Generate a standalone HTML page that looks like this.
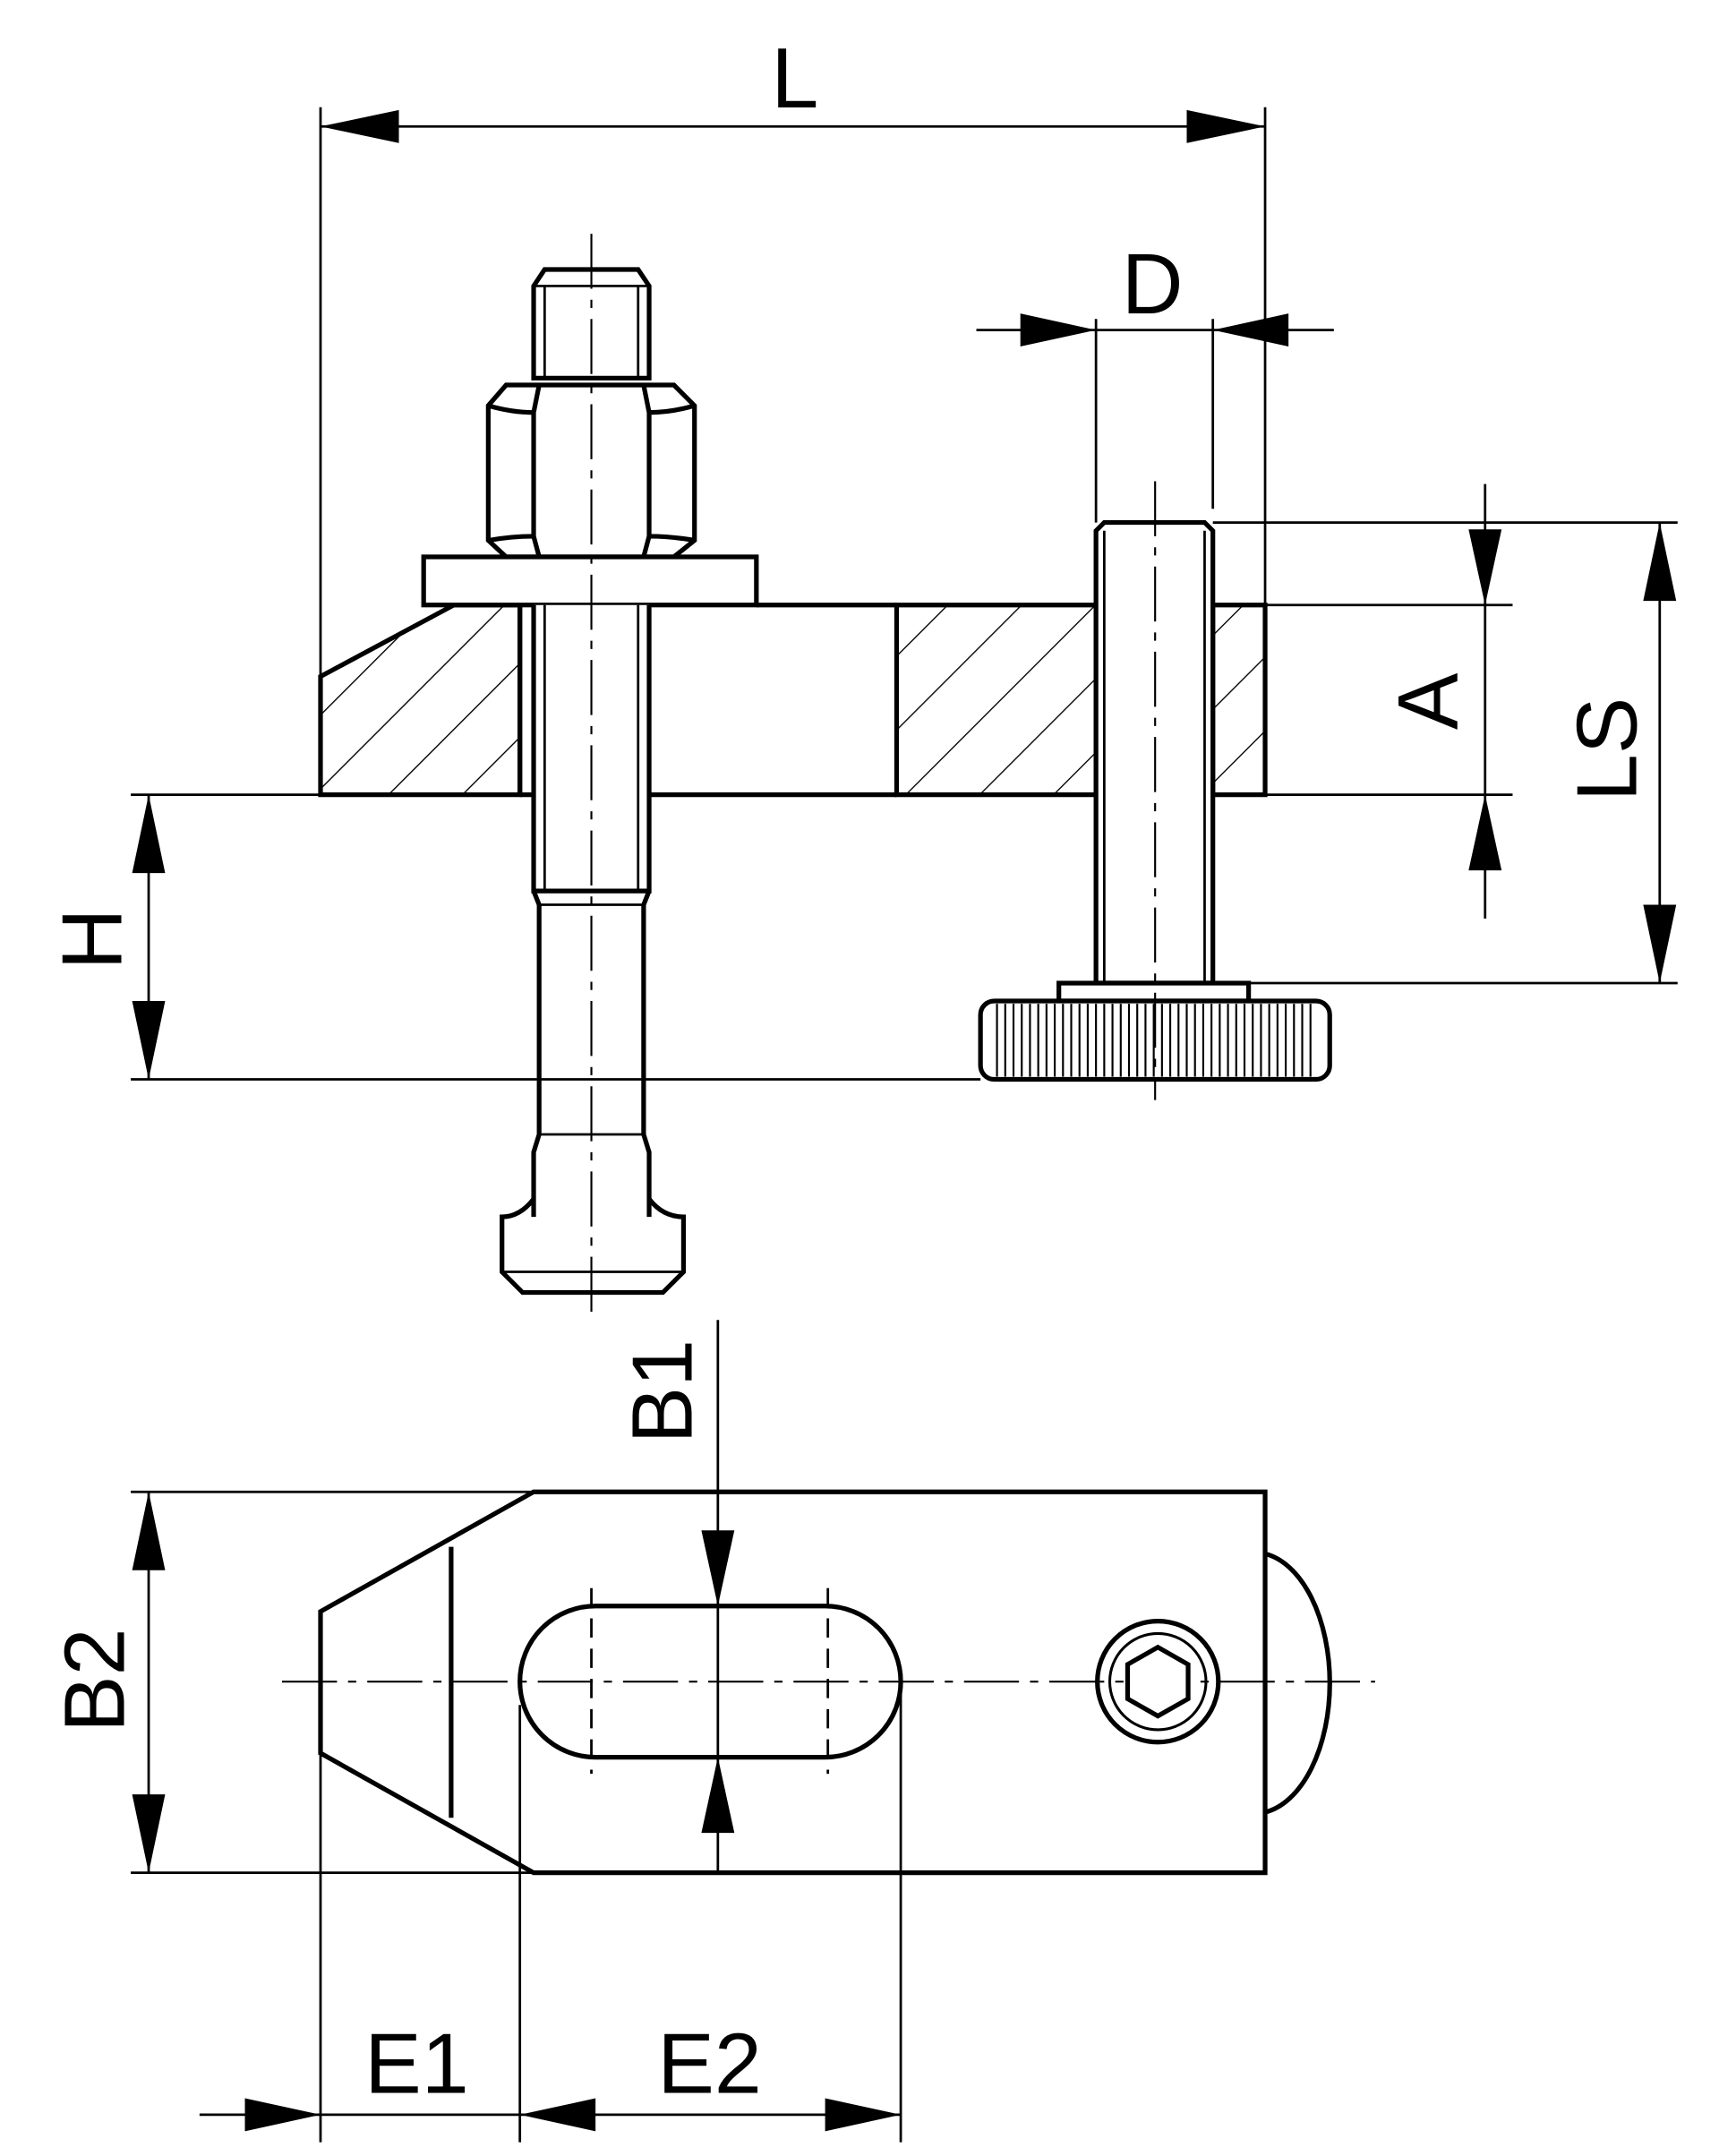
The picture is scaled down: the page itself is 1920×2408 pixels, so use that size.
<!DOCTYPE html>
<html><head><meta charset="utf-8"><style>
html,body{margin:0;padding:0;background:#fff}
svg{display:block}
text{font-family:"Liberation Sans",sans-serif;font-size:62px;fill:#000}
</style></head><body>
<svg width="1920" height="2408" viewBox="0 0 1250 1568" xmlns="http://www.w3.org/2000/svg">
<defs>
<pattern id="h" patternUnits="userSpaceOnUse" width="38" height="38" patternTransform="rotate(45)">
<line x1="0" y1="0" x2="0" y2="38" stroke="#000" stroke-width="1.8"/>
</pattern>
</defs>
<g fill="none" stroke="#000" stroke-width="3.4">
<!-- extension lines -->
<g stroke-width="1.8">
<line x1="233" y1="78" x2="233" y2="578"/>
<line x1="920" y1="78" x2="920" y2="440"/>
<line x1="797" y1="232" x2="797" y2="380"/>
<line x1="882" y1="232" x2="882" y2="370"/>
<line x1="233" y1="92" x2="920" y2="92"/>
<line x1="710" y1="240" x2="970" y2="240"/>
<line x1="95" y1="578" x2="233" y2="578"/>
<line x1="95" y1="785" x2="713" y2="785"/>
<line x1="108" y1="578" x2="108" y2="785"/>
<line x1="882" y1="380" x2="1220" y2="380"/>
<line x1="920" y1="440" x2="1100" y2="440"/>
<line x1="920" y1="578" x2="1100" y2="578"/>
<line x1="908" y1="715" x2="1220" y2="715"/>
<line x1="1080" y1="352" x2="1080" y2="668"/>
<line x1="1207" y1="380" x2="1207" y2="715"/>
</g>

<!-- body hatched -->
<path d="M233 492 L330 440 L378 440 L378 578 L233 578 Z" fill="url(#h)"/>
<path d="M652 440 L797 440 L797 578 L652 578 Z" fill="url(#h)"/>
<path d="M882 440 L920 440 L920 578 L882 578 Z" fill="url(#h)"/>
<line x1="550" y1="440" x2="652" y2="440"/>
<line x1="378" y1="578" x2="652" y2="578"/>
<line x1="470" y1="440" x2="470" y2="578" stroke-width="1.8"/>
<line x1="378" y1="440" x2="378" y2="578"/>

<!-- T-bolt -->
<path d="M388 208 L396 196 L464 196 L472 208 L472 275 L388 275 Z" fill="#fff"/>
<line x1="396" y1="208" x2="396" y2="275" stroke-width="1.8"/>
<line x1="464" y1="208" x2="464" y2="275" stroke-width="1.8"/>
<line x1="388" y1="208" x2="472" y2="208" stroke-width="1.8"/>
<path d="M368 280 L490 280 L505 295 L505 393 L490 405 L368 405 L355 393 L355 295 Z" fill="#fff"/>
<path d="M392 280 L388 300 L388 390 L392 405 M468 280 L472 300 L472 390 L468 405"/>
<path d="M355 295 Q372 300 388 300 M505 295 Q488 300 472 300 M355 393 Q372 390 388 390 M505 393 Q488 390 472 390"/>
<rect x="308" y="405" width="242" height="35" fill="#fff"/>
<path d="M388 440 L388 648 L472 648 L472 440" fill="#fff"/>
<line x1="396" y1="440" x2="396" y2="648" stroke-width="1.8"/>
<line x1="464" y1="440" x2="464" y2="648" stroke-width="1.8"/>
<path d="M388 648 L392 658 L392 825 L388 838 L388 885 M472 648 L468 658 L468 825 L472 838 L472 885"/>
<line x1="392" y1="658" x2="468" y2="658" stroke-width="1.8"/>
<line x1="392" y1="825" x2="468" y2="825" stroke-width="1.8"/>
<path d="M388 872 Q378 885 365 885 L365 925 L380 940 L482 940 L497 925 L497 885 Q482 885 472 872"/>
<line x1="365" y1="925" x2="497" y2="925" stroke-width="1.8"/>
<line x1="430" y1="170" x2="430" y2="958" stroke-width="1.4" stroke-dasharray="40 8 6 8"/>

<!-- screw -->
<path d="M797 386 L803 380 L876 380 L882 386 L882 715 L797 715 Z" fill="#fff"/>
<line x1="803" y1="386" x2="803" y2="715" stroke-width="1.8"/>
<line x1="876" y1="386" x2="876" y2="715" stroke-width="1.8"/>
<rect x="770" y="715" width="138" height="13" fill="#fff"/>
<rect x="713" y="728" width="254" height="57" rx="10" fill="#fff"/>
<g stroke-width="1.4">
<path d="M725 730 V783 M731 730 V783 M737 730 V783 M743 730 V783 M749 730 V783 M755 730 V783 M761 730 V783 M767 730 V783 M773 730 V783 M779 730 V783 M785 730 V783 M791 730 V783 M797 730 V783 M803 730 V783 M809 730 V783 M815 730 V783 M821 730 V783 M827 730 V783 M833 730 V783 M839 730 V783 M845 730 V783 M851 730 V783 M857 730 V783 M863 730 V783 M869 730 V783 M875 730 V783 M881 730 V783 M887 730 V783 M893 730 V783 M899 730 V783 M905 730 V783 M911 730 V783 M917 730 V783 M923 730 V783 M929 730 V783 M935 730 V783 M941 730 V783 M947 730 V783 M953 730 V783"/>
</g>
<line x1="840" y1="350" x2="840" y2="800" stroke-width="1.4" stroke-dasharray="40 8 6 8"/>

<!-- bottom view -->
<path d="M388 1085 L920 1085 L920 1362 L388 1362 L233 1275 L233 1172 Z"/>
<line x1="328" y1="1125" x2="328" y2="1322"/>
<path d="M920 1130 A55 95 0 0 1 920 1318"/>
<rect x="378" y="1168" width="277" height="110" rx="55"/>
<line x1="430" y1="1155" x2="430" y2="1290" stroke-width="1.8" stroke-dasharray="14 8"/>
<line x1="602" y1="1155" x2="602" y2="1290" stroke-width="1.8" stroke-dasharray="14 8"/>
<line x1="205" y1="1223" x2="1000" y2="1223" stroke-width="1.4" stroke-dasharray="40 8 6 8"/>
<circle cx="842" cy="1223" r="44"/>
<circle cx="842" cy="1223" r="35" stroke-width="2"/>
<path d="M842 1198 L864 1210.5 L864 1235.5 L842 1248 L820 1235.5 L820 1210.5 Z" fill="#fff"/>
<g stroke-width="1.8">
<line x1="522" y1="960" x2="522" y2="1362"/>
<line x1="95" y1="1085" x2="388" y2="1085"/>
<line x1="95" y1="1362" x2="388" y2="1362"/>
<line x1="108" y1="1085" x2="108" y2="1362"/>
<line x1="233" y1="1275" x2="233" y2="1558"/>
<line x1="378" y1="1240" x2="378" y2="1558"/>
<line x1="655" y1="1223" x2="655" y2="1558"/>
<line x1="145" y1="1538" x2="655" y2="1538"/>
</g>
</g>
<!-- arrowheads -->
<g fill="#000">
<path d="M233 92 L290 80 L290 104 Z"/>
<path d="M920 92 L863 80 L863 104 Z"/>
<path d="M797 240 L742 228 L742 252 Z"/>
<path d="M882 240 L937 228 L937 252 Z"/>
<path d="M108 578 L96 635 L120 635 Z"/>
<path d="M108 785 L96 728 L120 728 Z"/>
<path d="M1080 440 L1068 385 L1092 385 Z"/>
<path d="M1080 578 L1068 633 L1092 633 Z"/>
<path d="M1207 380 L1195 437 L1219 437 Z"/>
<path d="M1207 715 L1195 658 L1219 658 Z"/>
<path d="M522 1168 L510 1113 L534 1113 Z"/>
<path d="M522 1278 L510 1333 L534 1333 Z"/>
<path d="M108 1085 L96 1142 L120 1142 Z"/>
<path d="M108 1362 L96 1305 L120 1305 Z"/>
<path d="M233 1538 L178 1526 L178 1550 Z"/>
<path d="M378 1538 L433 1526 L433 1550 Z"/>
<path d="M655 1538 L600 1526 L600 1550 Z"/>
</g>
<text x="578" y="78" text-anchor="middle">L</text>
<text x="838" y="228" text-anchor="middle">D</text>
<text transform="translate(88 683) rotate(-90)" text-anchor="middle">H</text>
<text transform="translate(1060 510) rotate(-90)" text-anchor="middle">A</text>
<text transform="translate(1190 545) rotate(-90)" text-anchor="middle">LS</text>
<text transform="translate(503 1012) rotate(-90)" text-anchor="middle">B1</text>
<text transform="translate(90 1222) rotate(-90)" text-anchor="middle">B2</text>
<text x="303" y="1522" text-anchor="middle">E1</text>
<text x="516" y="1522" text-anchor="middle">E2</text>
</svg>
</body></html>
